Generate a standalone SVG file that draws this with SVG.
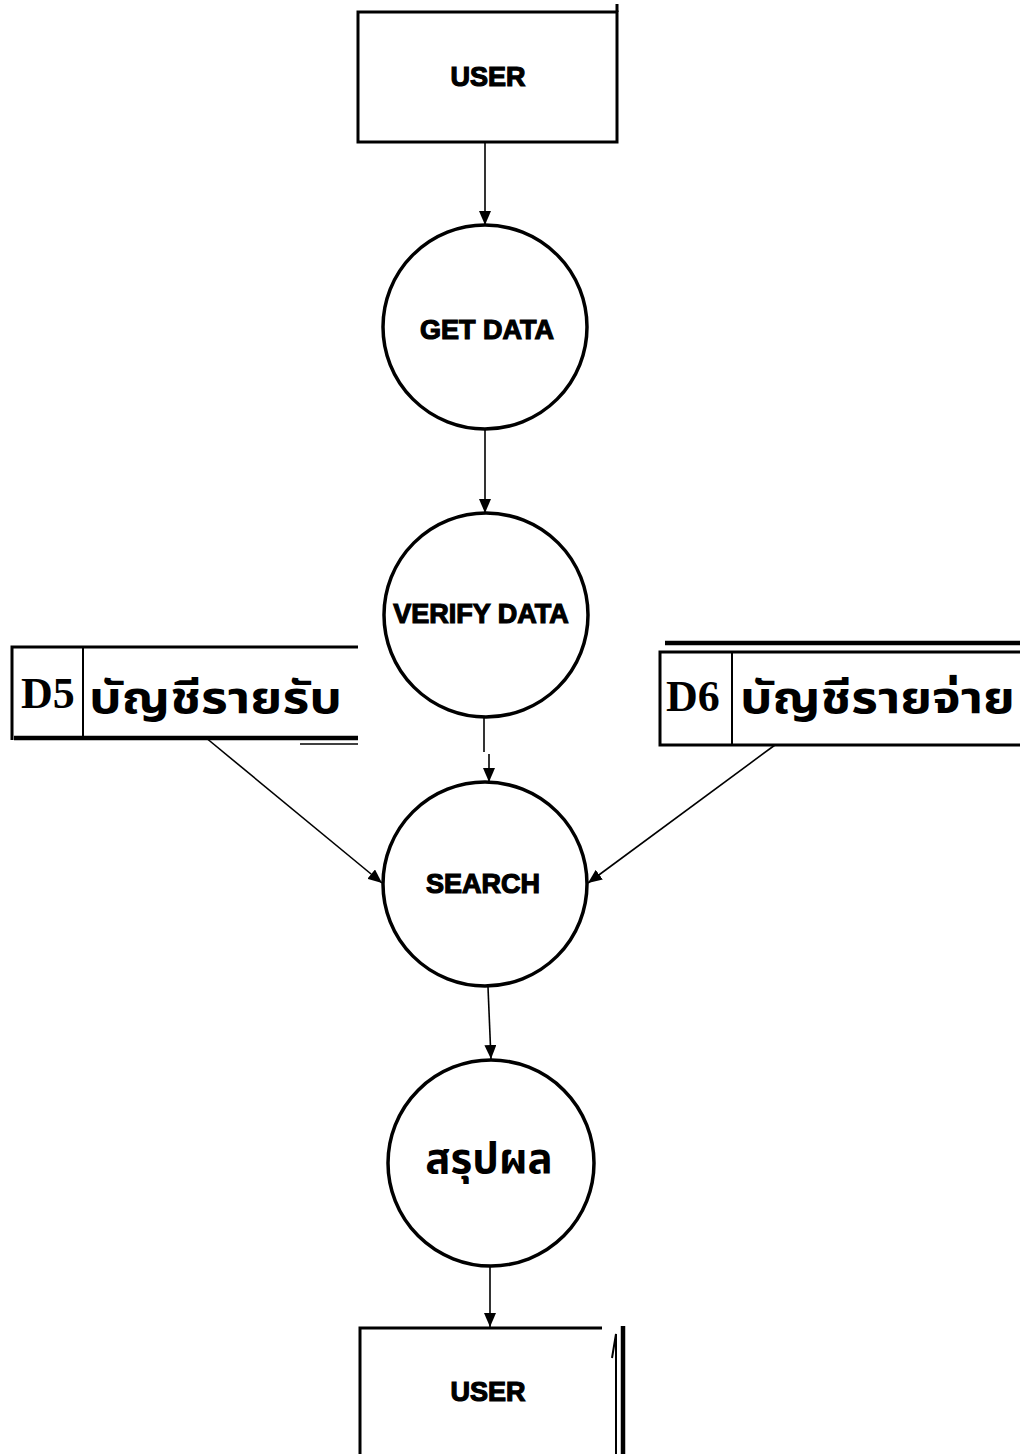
<svg xmlns="http://www.w3.org/2000/svg" width="1020" height="1454" viewBox="0 0 1020 1454">
<style>
.box{fill:none;stroke:#000;stroke-width:3}
.thick{fill:none;stroke:#000;stroke-width:4.5}
.proc{fill:none;stroke:#000;stroke-width:3.5}
.lbl{font-family:"Liberation Sans",Arial,sans-serif;font-weight:bold;font-size:27px;text-anchor:middle;fill:#000;stroke:#000;stroke-width:1.2}
.id{font-family:"Liberation Serif","Times New Roman",serif;font-weight:bold;font-size:44px;fill:#000}
.thai{font-family:"Noto Sans Thai","Noto Serif Thai","Loma","Garuda","Norasi","Noto Sans",sans-serif;font-weight:bold;fill:#000}
.flow{fill:none;stroke:#000;stroke-width:1.6}
</style>
<defs>
<marker id="ah" viewBox="0 0 14 12" refX="14" refY="6" markerWidth="14" markerHeight="12" markerUnits="userSpaceOnUse" orient="auto">
<path d="M0,0 L14,6 L0,12 Z" fill="#000"/>
</marker>
</defs>
<rect width="1020" height="1454" fill="#fff"/>

<g id="user-top">
<rect class="box" x="358" y="12" width="259" height="130"/>
<path class="box" d="M617,4 V12"/>
<text class="lbl" x="488" y="86">USER</text>
</g>

<g id="get-data">
<circle class="proc" cx="485" cy="327" r="102"/>
<text class="lbl" x="487" y="339">GET DATA</text>
</g>

<g id="verify-data">
<circle class="proc" cx="486" cy="615" r="102"/>
<text class="lbl" x="481" y="623">VERIFY DATA</text>
</g>

<g id="search">
<circle class="proc" cx="485" cy="884" r="102"/>
<text class="lbl" x="483" y="893">SEARCH</text>
</g>

<g id="summary">
<circle class="proc" cx="491" cy="1163" r="103"/>
<text class="thai" x="489" y="1173" font-size="42" text-anchor="middle">สรุปผล</text>
</g>

<g id="user-bottom">
<path class="box" d="M360,1454 V1328 H602"/>
<path class="thick" d="M623,1326 V1454"/>
<path class="flow" d="M612,1358 L616,1334 V1454" style="stroke-width:2"/>
<text class="lbl" x="488" y="1401">USER</text>
</g>

<g id="d5">
<path class="box" d="M12,740 V647 H358"/>
<path class="thick" d="M14,738 H358"/>
<path class="flow" d="M300,744 H358"/>
<path class="box" d="M83,647 V737" style="stroke-width:2"/>
<text class="id" x="21" y="708">D5</text>
<text class="thai" x="89" y="713" font-size="44" textLength="253" lengthAdjust="spacingAndGlyphs">บัญชีรายรับ</text>
</g>

<g id="d6">
<path class="thick" d="M665,643 H1020"/>
<path class="box" d="M1020,652 H660 V745 H1020"/>
<path class="box" d="M732,652 V745" style="stroke-width:2"/>
<text class="id" x="666" y="711">D6</text>
<text class="thai" x="740" y="713" font-size="44" textLength="275" lengthAdjust="spacingAndGlyphs">บัญชีรายจ่าย</text>
</g>

<g id="connectors">
<path class="flow" d="M485,142 V225" marker-end="url(#ah)"/>
<path class="flow" d="M485,430 V513" marker-end="url(#ah)"/>
<path class="flow" d="M484,717 V752"/>
<path class="flow" d="M489,754 V782" marker-end="url(#ah)"/>
<path class="flow" d="M205,737 L382,883" marker-end="url(#ah)"/>
<path class="flow" d="M775,745 L588,883" marker-end="url(#ah)"/>
<path class="flow" d="M488,987 L491,1059" marker-end="url(#ah)"/>
<path class="flow" d="M490,1267 V1327" marker-end="url(#ah)"/>
</g>
</svg>
